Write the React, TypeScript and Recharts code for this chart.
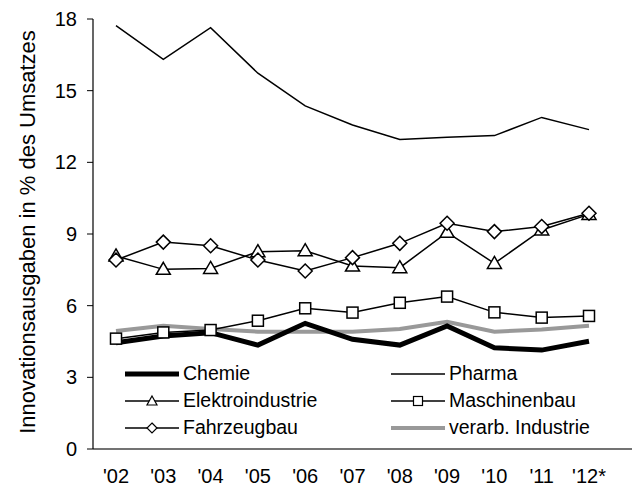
import React from 'react';
import { LineChart, Line, XAxis, YAxis } from 'recharts';

const years = ["'02", "'03", "'04", "'05", "'06", "'07", "'08", "'09", "'10", "'11", "'12*"];
const chemie = [4.45, 4.73, 4.87, 4.35, 5.26, 4.59, 4.35, 5.15, 4.24, 4.14, 4.51];
const pharma = [17.72, 16.31, 17.64, 15.73, 14.36, 13.56, 12.96, 13.05, 13.12, 13.88, 13.37];
const elektro = [8.08, 7.52, 7.56, 8.26, 8.3, 7.66, 7.59, 9.07, 7.77, 9.17, 9.82];
const maschinen = [4.62, 4.88, 4.98, 5.37, 5.89, 5.71, 6.12, 6.38, 5.72, 5.5, 5.57];
const fahrzeug = [7.91, 8.66, 8.51, 7.91, 7.45, 8.01, 8.61, 9.45, 9.1, 9.31, 9.87];
const industrie = [4.94, 5.16, 5.02, 4.91, 4.91, 4.91, 5.02, 5.33, 4.91, 5.0, 5.16];
const yTicks = [0, 3, 6, 9, 12, 15, 18];

const data = years.map((y, i) => ({
    year: y,
    chemie: chemie[i],
    pharma: pharma[i],
    elektro: elektro[i],
    maschinen: maschinen[i],
    fahrzeug: fahrzeug[i],
    industrie: industrie[i],
}));

const FONT = 'Arial, "Liberation Sans", sans-serif';

const Triangle = (props: any) => {
    const { cx, cy } = props;
    if (cx == null || cy == null) return null;
    return <path d={`M${cx},${cy - 7} L${cx + 7},${cy + 5} L${cx - 7},${cy + 5} Z`} fill="#fff" stroke="#000" strokeWidth={1.5} />;
};
const Diamond = (props: any) => {
    const { cx, cy } = props;
    if (cx == null || cy == null) return null;
    return <path d={`M${cx},${cy - 7} L${cx + 7},${cy} L${cx},${cy + 7} L${cx - 7},${cy} Z`} fill="#fff" stroke="#000" strokeWidth={1.5} />;
};
const Square = (props: any) => {
    const { cx, cy } = props;
    if (cx == null || cy == null) return null;
    return <rect x={cx - 5.5} y={cy - 5.5} width={11} height={11} fill="#fff" stroke="#000" strokeWidth={1.5} />;
};

const legendItems = [
    { name: 'Chemie', color: '#000', width: 5, marker: null },
    { name: 'Pharma', color: '#000', width: 1.5, marker: null },
    { name: 'Elektroindustrie', color: '#000', width: 1.5, marker: 'tri' },
    { name: 'Maschinenbau', color: '#000', width: 1.5, marker: 'sq' },
    { name: 'Fahrzeugbau', color: '#000', width: 1.5, marker: 'dia' },
    { name: 'verarb. Industrie', color: '#999', width: 4, marker: null },
];

const LegendIcon = ({ item }: any) => (
    <svg width={54} height={14} style={{ display: 'block' }}>
        <line x1={0} y1={7} x2={54} y2={7} stroke={item.color} strokeWidth={item.width} />
        {item.marker === 'tri' && <path d="M27,2 L32,11 L22,11 Z" fill="#fff" stroke="#000" strokeWidth={1.2} />}
        {item.marker === 'sq' && <rect x={22.5} y={2.5} width={9} height={9} fill="#fff" stroke="#000" strokeWidth={1.2} />}
        {item.marker === 'dia' && <path d="M27,2 L32,7 L27,12 L22,7 Z" fill="#fff" stroke="#000" strokeWidth={1.2} />}
    </svg>
);

const YLabel = () => (
    <text x={27} y={232} transform="rotate(-90 27 232)" textAnchor="middle" dominantBaseline="central" fontSize={22} fill="#000" fontFamily={FONT}>
        Innovationsausgaben in % des Umsatzes
    </text>
);

export default function App() {
    return (
        <div style={{ position: 'absolute', left: 0, top: 0, width: 634, height: 489, background: '#fff' }}>
            <LineChart width={634} height={489} data={data} margin={{ top: 19, right: 2, bottom: 0, left: 0 }}>
                <XAxis
                    dataKey="year"
                    scale="point"
                    padding={{ left: 23, right: 43 }}
                    height={40}
                    tickLine={false}
                    tickSize={8}
                    tickMargin={12}
                    axisLine={{ stroke: '#444', strokeWidth: 1.5 }}
                    tick={{ fontSize: 20, fill: '#000', fontFamily: FONT }}
                    interval={0}
                />
                <YAxis
                    domain={[0, 18]}
                    ticks={yTicks}
                    width={93}
                    tickSize={6}
                    tickMargin={10}
                    axisLine={{ stroke: '#000', strokeWidth: 1.2 }}
                    tickLine={{ stroke: '#000' }}
                    tick={{ fontSize: 20, fill: '#000', fontFamily: FONT }}
                    label={<YLabel />}
                />
                <Line dataKey="industrie" stroke="#999" strokeWidth={4} dot={false} isAnimationActive={false} />
                <Line dataKey="pharma" stroke="#000" strokeWidth={1.5} dot={false} isAnimationActive={false} />
                <Line dataKey="elektro" stroke="#000" strokeWidth={1.5} dot={<Triangle />} isAnimationActive={false} />
                <Line dataKey="fahrzeug" stroke="#000" strokeWidth={1.5} dot={<Diamond />} isAnimationActive={false} />
                <Line dataKey="maschinen" stroke="#000" strokeWidth={1.5} dot={<Square />} isAnimationActive={false} />
                <Line dataKey="chemie" stroke="#000" strokeWidth={5} dot={false} isAnimationActive={false} />
            </LineChart>
            <div style={{ position: 'absolute', left: 125, top: 362, display: 'grid', gridTemplateColumns: '266px 200px', rowGap: 4, fontFamily: FONT, fontSize: 19.5, color: '#000' }}>
                {legendItems.map((it) => (
                    <div key={it.name} style={{ display: 'flex', alignItems: 'center', height: 23, whiteSpace: 'nowrap' }}>
                        <LegendIcon item={it} />
                        <span style={{ marginLeft: 4 }}>{it.name}</span>
                    </div>
                ))}
            </div>
        </div>
    );
}
